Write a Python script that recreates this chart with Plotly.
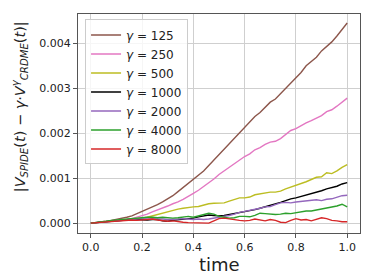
import plotly.graph_objects as go

time = [round(0.02 * i, 2) for i in range(51)]

# values in units of 1e-4
g125 = [0, 0.1, 0.2, 0.4, 0.6, 0.8, 1.0, 1.3, 1.6, 2.1, 2.6, 3.0, 3.5, 4.1, 4.7, 5.4, 6.1, 7.0, 7.9, 8.9,
        9.8, 10.5, 11.6, 12.8, 14.0, 15.2, 16.4, 17.6, 18.8, 20.2, 21.4, 22.5, 23.7, 24.6, 25.8, 26.9, 27.6,
        28.8, 30.0, 31.0, 32.2, 33.5, 35.0, 35.9, 36.9, 38.3, 39.3, 40.3, 41.6, 43.0, 44.5]
g250 = [0, 0.1, 0.2, 0.3, 0.4, 0.5, 0.6, 0.8, 1.0, 1.3, 1.6, 2.0, 2.5, 2.9, 3.3, 3.8, 4.3, 4.7, 5.3, 5.9,
        6.6, 7.3, 8.1, 8.8, 9.8, 10.8, 11.6, 12.5, 13.3, 14.0, 14.8, 15.4, 16.3, 16.8, 17.5, 18.0, 18.2,
        18.8, 19.7, 20.6, 21.0, 21.7, 22.3, 22.8, 23.3, 23.9, 24.8, 25.2, 26.0, 27.0, 27.8]
g500 = [0, 0.1, 0.2, 0.3, 0.4, 0.6, 0.7, 0.8, 0.9, 1.0, 1.1, 1.3, 1.6, 1.9, 2.2, 2.6, 2.9, 3.1, 3.3, 3.5,
        3.6, 3.7, 4.0, 4.3, 4.4, 4.5, 4.5, 4.9, 5.3, 5.6, 5.6, 5.8, 6.3, 6.5, 6.7, 6.9, 6.9, 7.1, 7.6, 8.0,
        8.4, 8.7, 9.2, 9.7, 10.2, 10.3, 11.2, 11.0, 11.6, 12.4, 13.0]
g1000 = [0, 0.1, 0.3, 0.4, 0.5, 0.6, 0.7, 0.7, 0.8, 0.8, 0.7, 0.7, 0.8, 0.8, 0.5, 0.4, 0.6, 0.7, 0.9, 1.0,
         1.1, 1.4, 1.6, 1.8, 1.7, 1.6, 1.7, 1.9, 2.1, 2.3, 2.5, 2.7, 3.0, 3.3, 3.6, 3.9, 4.3, 4.6, 5.0, 5.4,
         5.6, 5.9, 6.3, 6.6, 6.8, 7.2, 7.6, 7.9, 8.2, 8.7, 9.0]
g2000 = [0, 0.1, 0.2, 0.3, 0.5, 0.6, 0.7, 0.8, 0.9, 1.0, 1.0, 0.9, 0.9, 1.0, 0.9, 0.8, 0.8, 0.9, 1.0, 0.9,
         0.8, 0.9, 0.8, 0.9, 1.1, 1.2, 1.4, 1.7, 2.0, 2.4, 2.6, 2.8, 3.1, 3.3, 3.6, 3.7, 4.1, 4.5, 4.6, 4.5,
         4.7, 4.8, 4.9, 5.1, 5.2, 5.0, 5.3, 5.4, 5.8, 6.1, 6.2]
g4000 = [0, 0.1, 0.2, 0.4, 0.6, 0.7, 0.9, 1.0, 1.1, 1.2, 1.2, 1.3, 1.3, 1.2, 1.3, 1.2, 1.1, 1.2, 1.4, 1.5,
         1.3, 1.6, 2.0, 2.2, 2.0, 1.5, 1.3, 1.1, 1.2, 1.5, 1.5, 1.4, 1.7, 2.2, 2.1, 2.0, 1.9, 2.0, 2.2, 2.1,
         2.3, 2.6, 2.7, 2.7, 2.9, 3.1, 3.4, 3.6, 3.8, 4.2, 3.6]
g8000 = [0, 0.1, 0.2, 0.3, 0.4, 0.5, 0.6, 0.7, 0.7, 0.6, 0.7, 0.8, 0.9, 0.7, 0.5, 0.4, 0.5, 0.3, 0.2, 0.1,
         0.1, 0.0, 0.0, 0.0, 0.5, 1.0, 1.1, 0.9, 0.8, 0.6, 0.5, 0.6, 0.9, 0.7, 0.5, 0.8, 0.6, 0.2, 0.1, 0.6,
         1.0, 0.7, 0.8, 0.5, 0.8, 1.2, 1.0, 0.6, 0.5, 0.3, 0.3]

series = [("125", g125, "#8c564b"), ("250", g250, "#e377c2"), ("500", g500, "#bcbd22"),
          ("1000", g1000, "#000000"), ("2000", g2000, "#9467bd"), ("4000", g4000, "#2ca02c"),
          ("8000", g8000, "#d62728")]

x_ticks = [0.0, 0.2, 0.4, 0.6, 0.8, 1.0]
y_ticks = [0.0, 0.001, 0.002, 0.003, 0.004]

FONT = "DejaVu Sans"
fig = go.Figure()
for name, vals, col in series:
    fig.add_trace(go.Scatter(x=time, y=[v * 1e-4 for v in vals], mode="lines",
                             name="<i>γ</i> = " + name, line=dict(color=col, width=1.4)))

# the page body adds an 8px margin, so the figure is sized to fit the window
fig.update_layout(
    width=366, height=272,
    margin=dict(l=70, r=14, t=6, b=47, autoexpand=False),
    paper_bgcolor="white", plot_bgcolor="white",
    font=dict(family=FONT, size=11, color="#222"),
    showlegend=True,
    legend=dict(x=0.025, y=0.975, xanchor="left", yanchor="top",
                bgcolor="rgba(255,255,255,0.8)", bordercolor="#cccccc", borderwidth=1,
                font=dict(family=FONT, size=12, color="#222"), itemwidth=30,
                tracegroupgap=0),
)
fig.update_xaxes(range=[-0.05, 1.05], tickvals=x_ticks, ticktext=["%.1f" % v for v in x_ticks],
                 showgrid=True, gridcolor="#cfcfcf", gridwidth=1, zeroline=False,
                 showline=True, linecolor="#555", linewidth=1, mirror=True,
                 ticks="outside", ticklen=4, tickcolor="#555", automargin=False)
fig.update_yaxes(range=[-0.00022, 0.00465], tickvals=y_ticks, ticktext=["%.3f" % v for v in y_ticks],
                 showgrid=True, gridcolor="#cfcfcf", gridwidth=1, zeroline=False,
                 showline=True, linecolor="#555", linewidth=1, mirror=True,
                 ticks="outside", ticklen=4, tickcolor="#555", automargin=False)

fig.add_annotation(text="time", xref="paper", yref="paper", x=0.5, y=-0.146,
                   xanchor="center", yanchor="middle", showarrow=False,
                   font=dict(family=FONT, size=18, color="#222"))
ylabel = ("|<i>V</i><sub><i>SPIDE</i></sub>(<i>t</i>) − <i>γ</i>·<i>V</i>"
          "<sup><i>γ</i></sup><sub><i>CRDME</i></sub>(<i>t</i>)|")
fig.add_annotation(text=ylabel, xref="paper", yref="paper", x=-0.205, y=0.575, textangle=-90,
                   xanchor="center", yanchor="middle", showarrow=False,
                   font=dict(family=FONT, size=14.5, color="#222"))

fig.write_html("out.html")
